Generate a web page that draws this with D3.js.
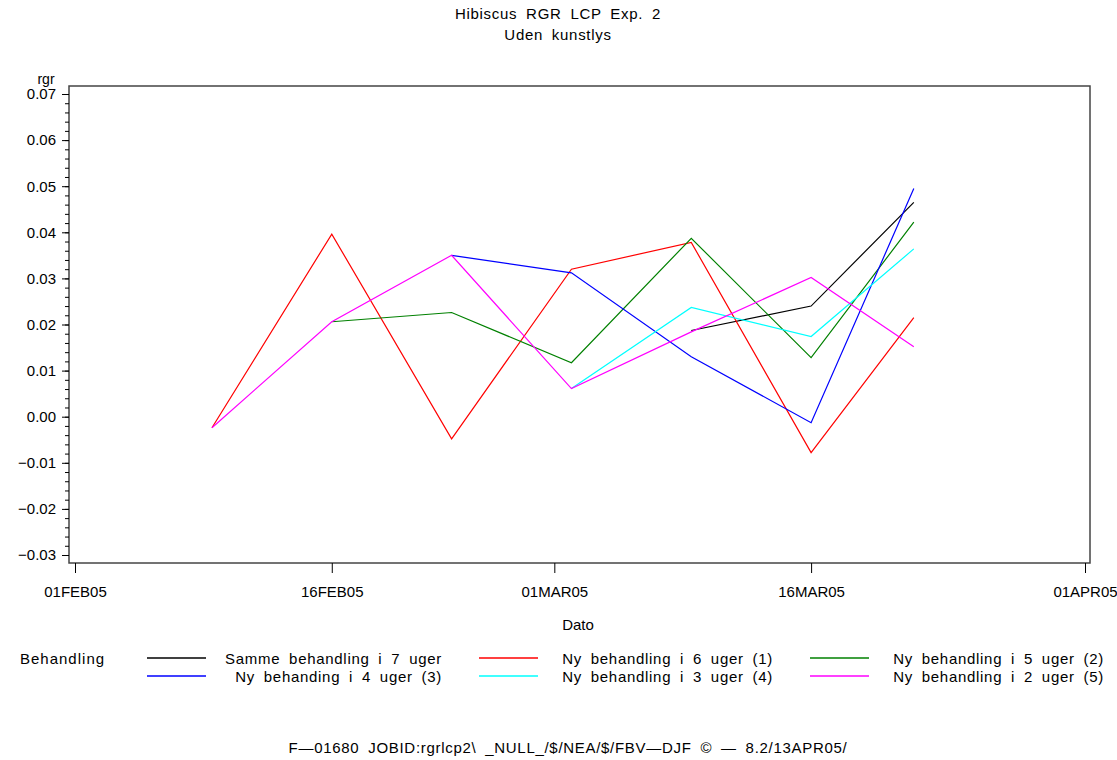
<!DOCTYPE html>
<html>
<head>
<meta charset="utf-8">
<script src="https://cdn.jsdelivr.net/npm/d3@7"></script>
<style>
  body { margin: 0; background: #fff; }
  text { font-family: "Liberation Sans", Arial, sans-serif; fill: #000; }
  .wide { letter-spacing: 0.7px; word-spacing: 4px; }
</style>
</head>
<body>
<svg id="chart" width="1117" height="760"></svg>
<script>
// measurement dates (weekly, last one a day early)
var dates = ['2005-02-09', '2005-02-16', '2005-02-23', '2005-03-02', '2005-03-09', '2005-03-16', '2005-03-22'];

// rgr per treatment, null = not measured yet
var samme7 = [null, null, null, null, 0.0187, 0.0240, 0.0465];
var ny6 = [-0.0024, 0.0396, -0.0048, 0.0320, 0.0378, -0.0078, 0.0215];
var ny5 = [null, 0.0206, 0.0226, 0.0117, 0.0387, 0.0128, 0.0422];
var ny4 = [null, null, 0.0350, 0.0312, 0.0130, -0.0013, 0.0495];
var ny3 = [null, null, null, 0.0061, 0.0237, 0.0174, 0.0364];
var ny2 = [-0.0024, 0.0206, 0.0350, 0.0061, 0.0184, 0.0302, 0.0152];

var seriesNames = ['Samme behandling i 7 uger', 'Ny behandling i 6 uger (1)', 'Ny behandling i 5 uger (2)',
                   'Ny behanding i 4 uger (3)', 'Ny behandling i 3 uger (4)', 'Ny behandling i 2 uger (5)'];
var seriesColors = ['#000000', '#ff0000', '#008000', '#0000ff', '#00ffff', '#ff00ff'];

var xTickDates = ['2005-02-01', '2005-02-16', '2005-03-01', '2005-03-16', '2005-04-01'];
var xTickLabels = ['01FEB05', '16FEB05', '01MAR05', '16MAR05', '01APR05'];
var yTicks = [-0.03, -0.02, -0.01, 0.00, 0.01, 0.02, 0.03, 0.04, 0.05, 0.06, 0.07];

var parse = d3.utcParse('%Y-%m-%d');
var svg = d3.select('#chart');

var x = d3.scaleUtc()
  .domain([parse('2005-02-01'), parse('2005-04-01')])
  .range([75, 1085]);

var y = d3.scaleLinear()
  .domain([-0.03, 0.07])
  .range([555, 94]);

// titles
svg.append('text').attr('class', 'wide').attr('x', 558).attr('y', 19).attr('text-anchor', 'middle')
  .style('font-size', '15px').text('Hibiscus RGR LCP Exp. 2');
svg.append('text').attr('class', 'wide').attr('x', 558).attr('y', 40).attr('text-anchor', 'middle')
  .style('font-size', '15px').text('Uden kunstlys');

// frame
svg.append('rect')
  .attr('x', 69).attr('y', 86).attr('width', 1021).attr('height', 477)
  .attr('fill', 'none').attr('stroke', '#444').attr('stroke-width', 1.5);

// y axis with minor ticks
var yMinor = d3.range(-0.03, 0.0701, 0.002);
svg.append('g').attr('transform', 'translate(69,0)')
  .call(d3.axisLeft(y).tickValues(yMinor).tickSize(4).tickFormat(''))
  .call(function(g) { g.select('.domain').remove(); });

var yAxis = svg.append('g').attr('transform', 'translate(69,0)')
  .call(d3.axisLeft(y).tickValues(yTicks).tickSize(7).tickPadding(6).tickFormat(d3.format('.2f')));
yAxis.select('.domain').remove();
yAxis.selectAll('text').style('font-size', '15px').style('font-family', '"Liberation Sans", Arial, sans-serif');

svg.append('text').attr('x', 46).attr('y', 84).attr('text-anchor', 'middle')
  .style('font-size', '14px').text('rgr');

// x axis hangs under the frame
var xAxis = svg.append('g').attr('transform', 'translate(0,563)')
  .call(d3.axisBottom(x).tickValues(xTickDates.map(parse)).tickSize(10).tickPadding(13)
    .tickFormat(function(d, i) { return xTickLabels[i]; }));
xAxis.select('.domain').remove();
xAxis.selectAll('text').style('font-size', '15px').style('font-family', '"Liberation Sans", Arial, sans-serif');

svg.append('text').attr('x', 578).attr('y', 630).attr('text-anchor', 'middle')
  .style('font-size', '15px').text('Dato');

// lines
var allSeries = [samme7, ny6, ny5, ny4, ny3, ny2];
var line = d3.line()
  .x(function(d) { return x(d.date); })
  .y(function(d) { return y(d.v); });

allSeries.forEach(function(vals, i) {
  var pts = vals.map(function(v, j) { return { date: parse(dates[j]), v: v }; })
    .filter(function(d) { return d.v !== null; });
  svg.append('path')
    .datum(pts)
    .attr('d', line)
    .attr('fill', 'none')
    .attr('stroke', seriesColors[i])
    .attr('stroke-width', 1.2);
});

// legend, 3 columns x 2 rows
svg.append('text').attr('x', 20).attr('y', 664).style('font-size', '15px')
  .style('letter-spacing', '1px').text('Behandling');

var legendLineX = [147, 479, 810];
var legendTextEnd = [442, 773, 1104];
var legendRowY = [658, 676];

seriesNames.forEach(function(name, i) {
  var col = i % 3, row = Math.floor(i / 3);
  svg.append('line')
    .attr('x1', legendLineX[col]).attr('x2', legendLineX[col] + 59)
    .attr('y1', legendRowY[row]).attr('y2', legendRowY[row])
    .attr('stroke', seriesColors[i]).attr('stroke-width', 1.5);
  svg.append('text')
    .attr('class', 'wide')
    .attr('x', legendTextEnd[col]).attr('y', legendRowY[row] + 6)
    .attr('text-anchor', 'end')
    .style('font-size', '15px')
    .text(name);
});

// job footer
svg.append('text').attr('class', 'wide').attr('x', 568).attr('y', 753).attr('text-anchor', 'middle')
  .style('font-size', '15px')
  .text('F\u201401680  JOBID:rgrlcp2\\ _NULL_/$/NEA/$/FBV\u2014DJF \u00a9  \u2014  8.2/13APR05/');
</script>
</body>
</html>
